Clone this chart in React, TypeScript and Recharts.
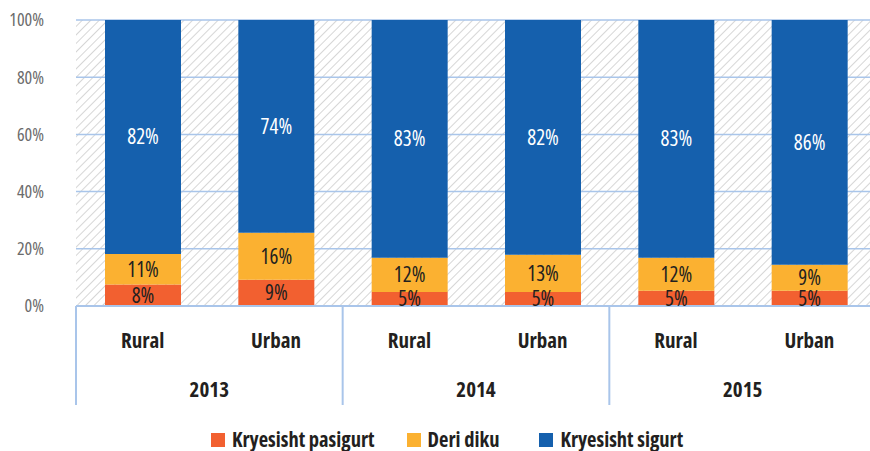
import React from 'react';
import { BarChart, Bar, XAxis, YAxis, CartesianGrid, LabelList } from 'recharts';

const categories = ['Rural', 'Urban', 'Rural', 'Urban', 'Rural', 'Urban'];
const years = ['2013', '2013', '2014', '2014', '2015', '2015'];
const yearLabels = ['2013', '2014', '2015'];
const pasigurt = [7.5, 9.2, 4.9, 4.9, 5.3, 5.3];
const diku = [10.7, 16.4, 12.0, 13.0, 11.6, 9.1];
const sigurt = [81.8, 74.4, 83.1, 82.1, 83.1, 85.6];
const yTicks = [0, 20, 40, 60, 80, 100];
const seriesNames = ['Kryesisht pasigurt', 'Deri diku', 'Kryesisht sigurt'];
const seriesColors = ['#f26030', '#fbb131', '#1560ad'];

const data = categories.map((c, i) => ({
  cat: c,
  key: `${years[i]}-${c}`,
  year: years[i],
  pasigurt: pasigurt[i],
  diku: diku[i],
  sigurt: sigurt[i],
}));

const FONT = "'Open Sans', 'DejaVu Sans Condensed', sans-serif";
const GRID = '#a9c5ea';
const CHART_W = 884;
const CHART_H = 451;
const M = { top: 20, right: 8, left: 0, bottom: 115 };
const BAND = (CHART_W - 76 - M.right) / categories.length;

const boldStyle = { fontStretch: '80%' };
const valueStyle = { fontStretch: '82%' };
const yStyle = { fontStretch: '87%' };

const XTick = (props: any) => {
  const { x, y, index } = props;
  const label = categories[index];
  const isFirst = index % 2 === 0;
  return (
    <g>
      <text x={x} y={y + 34} textAnchor="middle" dominantBaseline="central" fontFamily={FONT} fontWeight="bold" fontSize={21} fill="#231f20" style={boldStyle}>
        {label}
      </text>
      {isFirst && (
        <>
          <line x1={x - BAND / 2} x2={x - BAND / 2} y1={y} y2={y + 99} stroke={GRID} strokeWidth={2} />
          <text x={x + BAND / 2} y={y + 83} textAnchor="middle" dominantBaseline="central" fontFamily={FONT} fontWeight="bold" fontSize={21} fill="#231f20" style={boldStyle}>
            {yearLabels[index / 2]}
          </text>
        </>
      )}
      {index === categories.length - 1 && (
        <line x1={x + BAND / 2} x2={x + BAND / 2} y1={y} y2={y + 99} stroke={GRID} strokeWidth={2} />
      )}
    </g>
  );
};

const fmt = (v: any) => `${Math.round(Number(v))}%`;
const legendGaps = [0, 32, 40];

export default function App() {
  return (
    <div style={{ position: 'absolute', left: 0, top: 0, width: 870, height: 451, overflow: 'hidden', background: '#fff' }}>
      <svg width={0} height={0} style={{ position: 'absolute' }}>
        <defs>
          <pattern id="hatch" patternUnits="userSpaceOnUse" width={6} height={6} patternTransform="rotate(45)">
            <rect width={6} height={6} fill="#ffffff" />
            <line x1={0} y1={0} x2={0} y2={6} stroke="#cccccc" strokeWidth={1.6} />
          </pattern>
        </defs>
      </svg>
      <BarChart width={CHART_W} height={CHART_H} data={data} margin={M} barSize={76}>
        <CartesianGrid vertical={false} stroke={GRID} strokeWidth={1.5} fill="url(#hatch)" />
        <XAxis
          dataKey="key"
          interval={0}
          height={30}
          tickLine={false}
          tickSize={0}
          tickMargin={0}
          axisLine={{ stroke: GRID, strokeWidth: 2 }}
          tick={<XTick />}
        />
        <YAxis
          domain={[0, 100]}
          ticks={yTicks}
          tickFormatter={(v: number) => `${v}%`}
          axisLine={false}
          tickLine={false}
          tickSize={0}
          tickMargin={32}
          width={76}
          tick={{ fontFamily: FONT, fontSize: 18, fill: '#6b6b6b', style: yStyle }}
        />
        <Bar dataKey="pasigurt" stackId="a" fill={seriesColors[0]} isAnimationActive={false}>
          <LabelList dataKey="pasigurt" position="center" formatter={fmt} fill="#231f20" fontFamily={FONT} fontSize={21} style={valueStyle} />
        </Bar>
        <Bar dataKey="diku" stackId="a" fill={seriesColors[1]} isAnimationActive={false}>
          <LabelList dataKey="diku" position="center" formatter={fmt} fill="#231f20" fontFamily={FONT} fontSize={21} style={valueStyle} />
        </Bar>
        <Bar dataKey="sigurt" stackId="a" fill={seriesColors[2]} isAnimationActive={false}>
          <LabelList dataKey="sigurt" position="center" formatter={fmt} fill="#ffffff" fontFamily={FONT} fontSize={21} style={valueStyle} />
        </Bar>
      </BarChart>
      <div
        style={{
          position: 'absolute',
          left: 211,
          top: 429,
          display: 'flex',
          fontFamily: FONT,
          fontWeight: 'bold',
          fontSize: 20.5,
          lineHeight: '21px',
          fontStretch: '75%',
          color: '#231f20',
          whiteSpace: 'nowrap',
        }}
      >
        {seriesNames.map((n, i) => (
          <div key={n} style={{ display: 'flex', alignItems: 'center', gap: 7, marginLeft: legendGaps[i] }}>
            <div style={{ width: 14, height: 14, background: seriesColors[i] }} />
            <span>{n}</span>
          </div>
        ))}
      </div>
    </div>
  );
}
